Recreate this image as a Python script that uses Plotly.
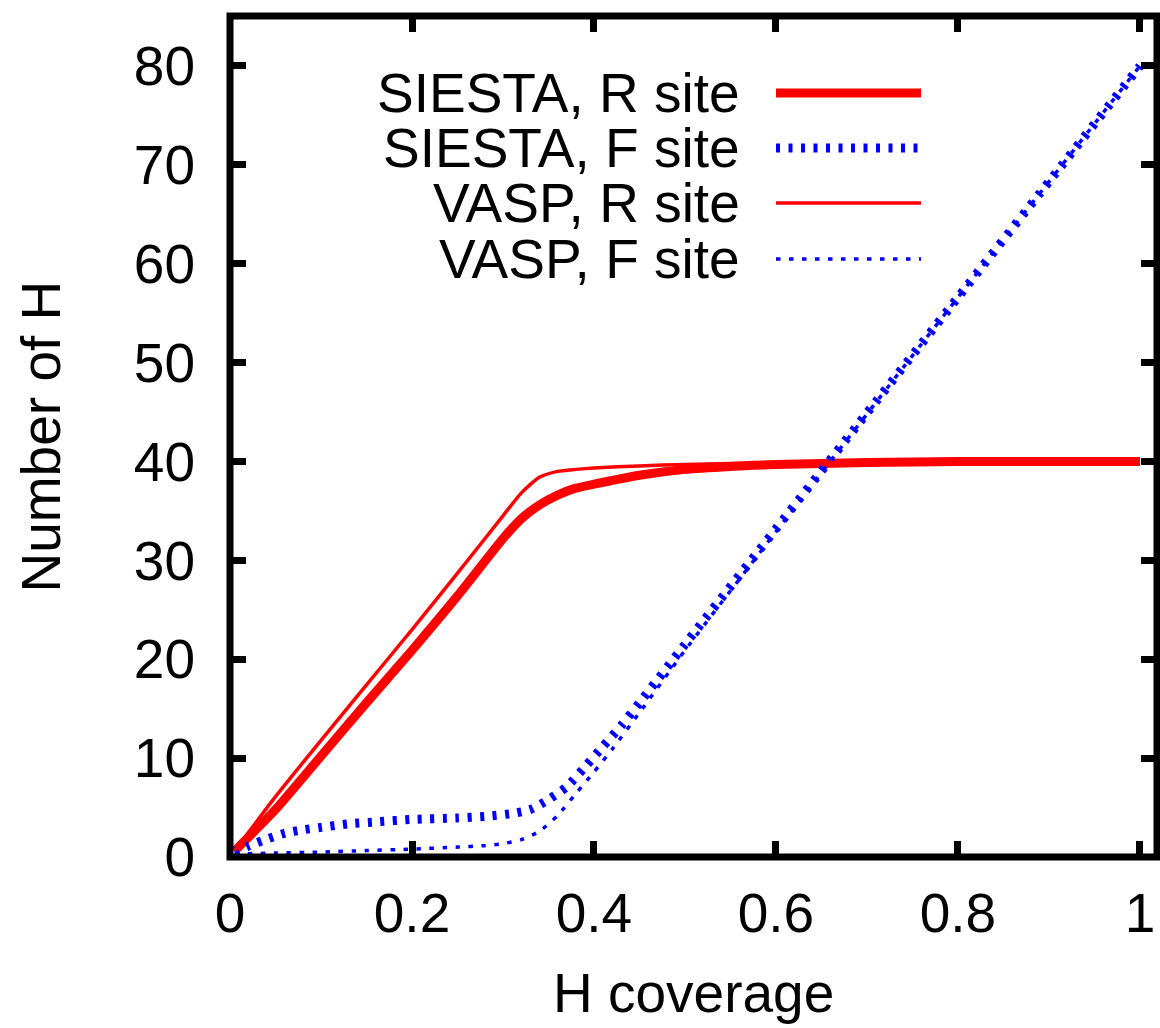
import plotly.graph_objects as go

# H coverage vs. number of adsorbed H, per site type and code
siesta_r_x = [0.005, 0.05, 0.1, 0.15, 0.2, 0.25, 0.3, 0.32, 0.34, 0.36, 0.38, 0.4,
              0.45, 0.5, 0.55, 0.6, 0.65, 0.7, 0.8, 0.9, 1.0]
siesta_r_y = [0.6, 4.8, 10.2, 15.6, 20.9, 26.4, 32.2, 34.2, 35.6, 36.6, 37.3, 37.7,
              38.6, 39.2, 39.5, 39.7, 39.8, 39.9, 40.0, 40.0, 40.0]

siesta_f_x = [0.005, 0.02, 0.04, 0.06, 0.08, 0.1, 0.13, 0.16, 0.2, 0.25, 0.28, 0.31,
              0.33, 0.35, 0.37, 0.39, 0.41, 0.43, 0.45, 0.5, 0.6, 0.7, 0.8, 0.9, 1.0]
siesta_f_y = [0.5, 1.1, 1.8, 2.4, 2.75, 3.0, 3.35, 3.55, 3.8, 3.95, 4.1, 4.4,
              4.8, 5.8, 7.1, 9.1, 11.2, 13.3, 15.6, 21.5, 33.2, 44.9, 56.6, 68.3, 80.0]

vasp_r_x = [0.005, 0.05, 0.1, 0.15, 0.2, 0.25, 0.3, 0.32, 0.34, 0.36, 0.38, 0.4,
            0.45, 0.5, 0.6, 0.7, 0.8, 0.9, 1.0]
vasp_r_y = [0.6, 6.1, 11.8, 17.4, 23.0, 28.7, 34.5, 36.8, 38.4, 39.0, 39.2, 39.35,
            39.55, 39.7, 39.85, 39.95, 40.0, 40.0, 40.0]

vasp_f_x = [0.005, 0.05, 0.1, 0.15, 0.2, 0.25, 0.28, 0.3, 0.32, 0.34, 0.36, 0.38,
            0.4, 0.42, 0.45, 0.5, 0.6, 0.7, 0.8, 0.9, 1.0]
vasp_f_y = [0.3, 0.4, 0.5, 0.65, 0.8, 1.0, 1.15, 1.35, 1.75, 2.6, 4.2, 6.4,
            8.6, 10.9, 14.6, 20.9, 32.9, 44.8, 56.6, 68.3, 80.0]

series_names = ["SIESTA, R site", "SIESTA, F site", "VASP, R site", "VASP, F site"]

x_tick_vals = [0, 0.2, 0.4, 0.6, 0.8, 1.0]
x_tick_text = ["0", "0.2", "0.4", "0.6", "0.8", "1"]
y_tick_vals = [0, 10, 20, 30, 40, 50, 60, 70, 80]

FONT = "Liberation Sans, Arial, Helvetica, sans-serif"
FS = 55

styles = [
    dict(color="#ff0000", width=9, dash="solid"),
    dict(color="#0000ff", width=9, dash="4px,8.5px"),
    dict(color="#ff0000", width=3.5, dash="solid"),
    dict(color="#0000ff", width=3.5, dash="4.5px,8.5px"),
]

data = [(siesta_r_x, siesta_r_y), (siesta_f_x, siesta_f_y),
        (vasp_r_x, vasp_r_y), (vasp_f_x, vasp_f_y)]

fig = go.Figure()
for (xs, ys), name, st in zip(data, series_names, styles):
    fig.add_trace(go.Scatter(
        x=xs, y=ys, mode="lines", name=name,
        line=dict(color=st["color"], width=st["width"], dash=st["dash"],
                  shape="spline", smoothing=0.6),
        showlegend=False,
    ))

# Plot area in pixels, used to place the key
L, R, T, B = 230, 1157, 16, 857
W, H = R - L, B - T

def px_x(p):
    return (p - L) / W

def px_y(p):
    return (B - p) / H

shapes = []
annotations = []
key_rows = [93, 148, 203, 259]
for row, name, st in zip(key_rows, series_names, styles):
    annotations.append(dict(
        text=name, xref="paper", yref="paper", x=px_x(742), y=px_y(row),
        xanchor="right", yanchor="middle", showarrow=False,
        font=dict(family=FONT, size=FS, color="black"),
    ))
    shapes.append(dict(
        type="line", xref="paper", yref="paper",
        x0=px_x(776), x1=px_x(921), y0=px_y(row), y1=px_y(row),
        line=dict(color=st["color"], width=st["width"], dash=st["dash"]),
    ))

# border
shapes.append(dict(type="rect", xref="paper", yref="paper", x0=0, x1=1, y0=0, y1=1,
                   line=dict(color="black", width=7), layer="above"))

annotations.append(dict(
    text="H coverage", xref="paper", yref="paper", x=0.5, y=0, yshift=-136,
    xanchor="center", yanchor="middle", showarrow=False,
    font=dict(family=FONT, size=FS, color="black"),
))
annotations.append(dict(
    text="Number of H", xref="paper", yref="paper", x=0, y=0.5, xshift=-190,
    xanchor="center", yanchor="middle", showarrow=False, textangle=-90,
    font=dict(family=FONT, size=FS, color="black"),
))

fig.update_layout(
    width=1160, height=1028,
    margin=dict(l=L, r=1160 - R, t=T, b=1028 - B, pad=0),
    paper_bgcolor="white", plot_bgcolor="white",
    font=dict(family=FONT, size=FS, color="black"),
    shapes=shapes, annotations=annotations,
    xaxis=dict(range=[0, 1.0187], tickvals=x_tick_vals, ticktext=x_tick_text,
               ticks="inside", ticklen=16, tickwidth=7, tickcolor="black",
               mirror="ticks", showline=False, showgrid=False, zeroline=False,
               ticklabelstandoff=19),
    yaxis=dict(range=[0, 85.05], tickvals=y_tick_vals,
               ticks="inside", ticklen=16, tickwidth=7, tickcolor="black",
               mirror="ticks", showline=False, showgrid=False, zeroline=False,
               ticklabelstandoff=34),
)

fig.write_html("out.html")
